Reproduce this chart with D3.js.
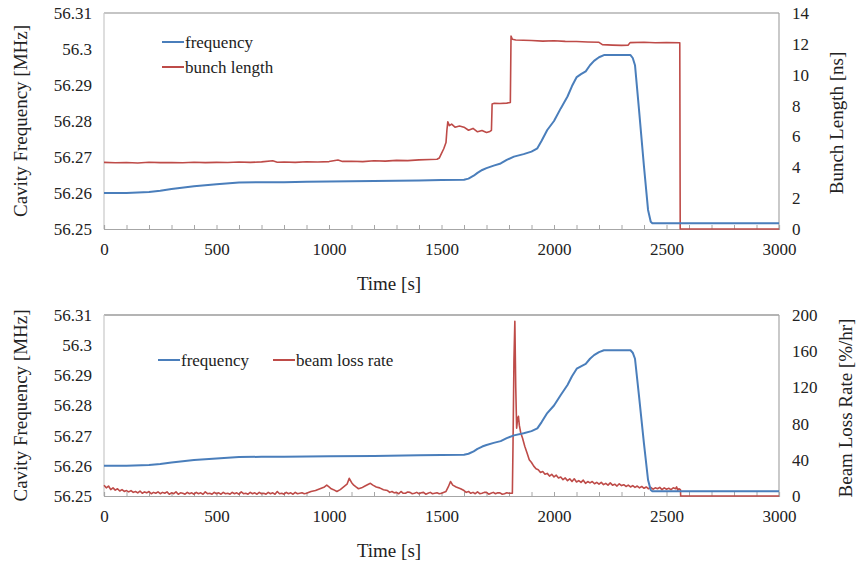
<!DOCTYPE html>
<html><head><meta charset="utf-8">
<script src="https://cdn.jsdelivr.net/npm/d3@7"></script>
<style>body{margin:0;background:#fff}svg{display:block}</style>
</head><body><svg id="c" width="857" height="565"></svg>
<script>
// ---- data ----
const timeTicks = [0, 500, 1000, 1500, 2000, 2500, 3000];
const freqTicks = [56.25, 56.26, 56.27, 56.28, 56.29, 56.3, 56.31];
const bunchTicks = [0, 2, 4, 6, 8, 10, 12, 14];
const lossTicks = [0, 40, 80, 120, 160, 200];

// cavity frequency [MHz] : [time s, value]
const frequency = [[0,56.2600],[100,56.2600],[200,56.2603],[250,56.2606],[300,56.2611],[400,56.2619],[500,56.2624],[600,56.2629],[700,56.2630],[800,56.2630],[900,56.2631],[1000,56.2632],[1200,56.2633],[1400,56.2635],[1500,56.2636],[1600,56.2637],[1620,56.2640],[1643,56.2648],[1660,56.2656],[1681,56.2664],[1700,56.2669],[1732,56.2676],[1763,56.2682],[1790,56.2692],[1822,56.2701],[1865,56.2708],[1900,56.2715],[1926,56.2724],[1945,56.2745],[1970,56.2775],[2000,56.2800],[2030,56.2835],[2060,56.2868],[2080,56.2897],[2101,56.2922],[2120,56.2930],[2141,56.2938],[2160,56.2955],[2178,56.2967],[2200,56.2977],[2222,56.2983],[2340,56.2983],[2350,56.2975],[2360,56.2955],[2378,56.2830],[2400,56.2673],[2418,56.2553],[2430,56.2520],[2437,56.2516],[3000,56.2516]];

// bunch length [ns]
const bunchLength = [[0,4.32],[50,4.29],[100,4.31],[150,4.28],[200,4.33],[250,4.30],[300,4.31],[350,4.29],[400,4.33],[450,4.30],[500,4.32],[550,4.31],[600,4.34],[650,4.32],[700,4.35],[750,4.42],[770,4.33],[800,4.34],[850,4.32],[900,4.36],[950,4.34],[1000,4.37],[1040,4.47],[1060,4.38],[1100,4.39],[1150,4.37],[1200,4.42],[1250,4.40],[1300,4.45],[1350,4.43],[1400,4.48],[1450,4.50],[1480,4.52],[1490,4.60],[1500,4.90],[1510,5.20],[1520,5.60],[1524,6.40],[1528,6.95],[1535,6.70],[1545,6.80],[1560,6.60],[1580,6.68],[1600,6.60],[1620,6.40],[1640,6.52],[1660,6.30],[1680,6.38],[1700,6.25],[1715,6.32],[1722,6.40],[1725,8.10],[1735,8.15],[1760,8.13],[1790,8.16],[1806,8.20],[1809,12.50],[1815,12.30],[1830,12.25],[1900,12.22],[1950,12.18],[2000,12.20],[2050,12.16],[2100,12.15],[2150,12.12],[2200,12.10],[2215,11.95],[2260,11.92],[2300,11.90],[2330,11.92],[2338,12.08],[2400,12.10],[2450,12.07],[2500,12.09],[2559,12.07],[2561,0],[3000,0]];

// beam loss rate [%/hr]
const lossRate = [[0,12],[10,9],[20,11],[30,7],[40,9],[50,6.5],[60,8],[70,5.5],[80,7],[90,5],[100,6],[110,4.5],[120,6],[130,4],[140,5],[150,3.5],[160,5.5],[170,3],[180,4.5],[190,3.5],[200,5],[210,2.5],[220,4],[230,3],[240,4.5],[250,2.5],[260,4],[270,3],[280,4.5],[290,2],[300,3.5],[310,2.5],[320,4.5],[330,2],[340,3.5],[350,3],[360,2],[370,4],[380,2.5],[390,3.5],[400,2],[410,4],[420,2.5],[430,3.5],[440,2],[450,4.5],[460,2.5],[470,3],[480,2],[490,4],[500,2.5],[510,3.5],[520,2],[530,4],[540,2.5],[550,3],[560,2],[570,4],[580,2.5],[590,3.5],[600,2],[610,4.5],[620,2.5],[630,3],[640,2],[650,4],[660,2.5],[670,3.5],[680,2],[690,4],[700,2.5],[710,3],[720,2],[730,4],[740,2.5],[750,3.5],[760,2],[770,5],[780,2.5],[790,3],[800,2],[810,4],[820,2.5],[830,3.5],[840,2],[850,4],[860,2.5],[870,3],[880,3.5],[890,2.5],[900,3],[920,5],[940,6],[960,8],[980,10],[990,12],[1000,10],[1010,8],[1020,7],[1035,5],[1050,7],[1065,10],[1080,13],[1090,19.5],[1100,15],[1110,12],[1120,10],[1131,8],[1145,9],[1160,11],[1175,13],[1184,14],[1195,12],[1210,10],[1225,9],[1242,7],[1260,6],[1270,4],[1280,5],[1290,3.5],[1300,4],[1310,2.5],[1320,5],[1330,3],[1340,3],[1350,4.5],[1360,4],[1370,2.5],[1380,3],[1390,4],[1400,2.5],[1410,3.5],[1420,4],[1430,2],[1440,3],[1450,4],[1460,2.5],[1470,3],[1480,3.5],[1490,2.5],[1500,3],[1520,5],[1530,10],[1540,16],[1550,12],[1565,10],[1585,8],[1600,6],[1610,4],[1620,5],[1630,3],[1640,4],[1650,2.5],[1660,4.5],[1670,2.5],[1680,3],[1690,4],[1700,4],[1710,2],[1720,3],[1730,4],[1740,2.5],[1750,3.5],[1760,3.5],[1770,2],[1780,2.5],[1790,3.5],[1800,3],[1815,3],[1818,60],[1822,150],[1826,193],[1830,120],[1834,75],[1838,85],[1842,88],[1846,78],[1852,70],[1860,64],[1870,55],[1881,47],[1890,40],[1900,37],[1910,33],[1920,30],[1930,29],[1940,26],[1950,27],[1960,24],[1970,25],[1980,22],[1990,24],[2000,21],[2010,23],[2020,20],[2030,21],[2040,18],[2050,20],[2060,17],[2070,19],[2080,16],[2090,19],[2100,15.5],[2110,17],[2120,15],[2130,17.5],[2140,14],[2150,16],[2160,14.5],[2170,16],[2180,13.5],[2190,15],[2200,13],[2210,15],[2220,12.5],[2230,14],[2240,12],[2250,14.5],[2260,12],[2270,13],[2280,11],[2290,13.5],[2300,11.5],[2310,12.5],[2320,10.5],[2330,12],[2340,10],[2350,11.5],[2360,9.5],[2370,11],[2380,9],[2390,10.5],[2400,8.5],[2410,10],[2420,8],[2430,9.5],[2440,7.5],[2450,9],[2460,8],[2470,9.5],[2480,7],[2490,9],[2500,7.5],[2510,8.5],[2520,7],[2530,9],[2540,8],[2545,10],[2550,6.5],[2555,8],[2562,7],[2563,0],[3000,0]];

// ---- drawing ----
const svg = d3.select("#c");
const FONT = "'Liberation Serif','Times New Roman',serif";
const BLUE = "#4A7EBB", RED = "#BE4B48";
const X0 = 104, X1 = 779;

function styleText(sel, size) {
  sel.style("font-family", FONT).style("font-size", size + "px").style("fill", "#222");
}

function panel(o) {
  const g = svg.append("g");
  const x = d3.scaleLinear().domain([0, 3000]).range([X0, X1]);
  const yL = d3.scaleLinear().domain([56.25, 56.31]).range([o.bottom, o.top]);
  const yR = d3.scaleLinear().domain(o.rDomain).range([o.bottom, o.top]);

  // frame lines
  g.append("line").attr("x1", X0).attr("x2", X1).attr("y1", o.top).attr("y2", o.top)
    .attr("stroke", o.topColor).attr("stroke-width", o.topWidth);
  g.append("line").attr("x1", X0).attr("x2", X0).attr("y1", o.top).attr("y2", o.bottom)
    .attr("stroke", "#c8c8c8").attr("stroke-width", 1.2);
  g.append("line").attr("x1", X1).attr("x2", X1).attr("y1", o.top).attr("y2", o.bottom)
    .attr("stroke", "#a6a6a6").attr("stroke-width", 1.2);

  // x axis with minor ticks
  const minor = d3.range(0, 3001, 100);
  const xa = g.append("g").attr("transform", `translate(0,${o.bottom})`)
    .call(d3.axisBottom(x).tickValues(minor).tickSize(-4).tickFormat(""));
  xa.select(".domain").attr("stroke", "#a6a6a6").attr("stroke-width", 1.2);
  xa.selectAll(".tick line").attr("stroke", "#a6a6a6");
  const xl = g.append("g").attr("transform", `translate(0,${o.bottom})`)
    .call(d3.axisBottom(x).tickValues(timeTicks).tickSize(0).tickPadding(14).tickFormat(d3.format("d")));
  xl.select(".domain").remove();
  styleText(xl.selectAll("text"), 17);

  // left axis labels
  const ya = g.append("g").attr("transform", `translate(${X0},0)`)
    .call(d3.axisLeft(yL).tickValues(freqTicks).tickSize(0).tickPadding(12).tickFormat(d => +d.toFixed(2) + ""));
  ya.select(".domain").remove();
  styleText(ya.selectAll("text"), 17);

  // right axis labels
  const yb = g.append("g").attr("transform", `translate(${X1},0)`)
    .call(d3.axisRight(yR).tickValues(o.rTicks).tickSize(0).tickPadding(13).tickFormat(d3.format("d")));
  yb.select(".domain").remove();
  styleText(yb.selectAll("text"), 17);

  // titles
  styleText(g.append("text").attr("transform", `translate(27,${(o.top + o.bottom) / 2}) rotate(-90)`)
    .attr("text-anchor", "middle").text("Cavity Frequency [MHz]"), 19);
  styleText(g.append("text").attr("transform", `translate(${o.rTitleX},${o.rTitleY}) rotate(-90)`)
    .attr("text-anchor", "middle").text(o.rTitle), 19);
  styleText(g.append("text").attr("x", 389).attr("y", o.timeY).attr("text-anchor", "middle")
    .text("Time [s]"), 19);

  // series
  const lineL = d3.line().x(d => x(d[0])).y(d => yL(d[1]));
  const lineR = d3.line().x(d => x(d[0])).y(d => yR(d[1]));
  g.append("path").datum(o.rData).attr("d", lineR).attr("fill", "none")
    .attr("stroke", RED).attr("stroke-width", 1.6).attr("stroke-linejoin", "round");
  g.append("path").datum(frequency).attr("d", lineL).attr("fill", "none")
    .attr("stroke", BLUE).attr("stroke-width", 2).attr("stroke-linejoin", "round");

  // legend
  o.legend.forEach(l => {
    g.append("line").attr("x1", l.x).attr("x2", l.x + 22).attr("y1", l.y).attr("y2", l.y)
      .attr("stroke", l.c).attr("stroke-width", 2);
    styleText(g.append("text").attr("x", l.x + 23).attr("y", l.y + 5.5).text(l.t), 17);
  });
}

panel({
  top: 13, bottom: 229, rDomain: [0, 14], rTicks: bunchTicks, rData: bunchLength,
  topColor: "#8c8c8c", topWidth: 1.2, timeY: 290,
  rTitle: "Bunch Length [ns]", rTitleX: 843, rTitleY: 123,
  legend: [{x: 162, y: 42, c: BLUE, t: "frequency"}, {x: 162, y: 67, c: RED, t: "bunch length"}]
});
panel({
  top: 315, bottom: 496, rDomain: [0, 200], rTicks: lossTicks, rData: lossRate,
  topColor: "#b4b4b4", topWidth: 2, timeY: 557,
  rTitle: "Beam Loss Rate [%/hr]", rTitleX: 852, rTitleY: 408,
  legend: [{x: 158, y: 360, c: BLUE, t: "frequency"}, {x: 273, y: 360, c: RED, t: "beam loss rate"}]
});
</script></body></html>
